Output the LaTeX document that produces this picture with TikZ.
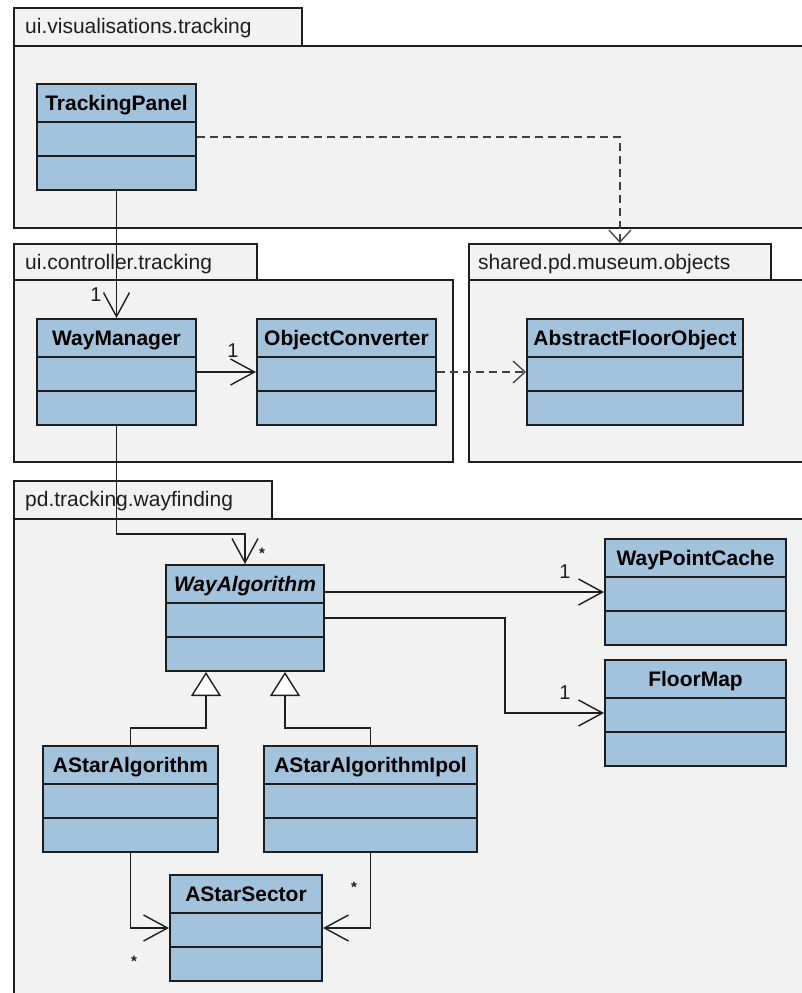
\documentclass[tikz,border=0pt]{standalone}
\usepackage{fontspec}
\setmainfont{Liberation Sans}
\usetikzlibrary{arrows.meta}
\definecolor{clsfill}{HTML}{A3C2DC}
\definecolor{pkgfill}{HTML}{F2F2F2}
\definecolor{ink}{HTML}{1E1E1E}
\definecolor{dashink}{HTML}{404040}
\tikzset{
  pkgbox/.style={draw=ink, fill=pkgfill, line width=1.8pt, inner sep=0pt, anchor=north west},
  pkglabel/.style={anchor=base west, inner sep=0pt, font=\fontsize{21pt}{25pt}\selectfont, text=ink},
  clsbox/.style={draw=ink, fill=clsfill, line width=2pt, inner sep=0pt, minimum height=106pt, anchor=north west},
  clstitle/.style={anchor=base, inner sep=0pt, font=\fontsize{21pt}{25pt}\selectfont\bfseries, text=black},
  clsline/.style={draw=ink, line width=2pt},
  assoc/.style={draw=ink, line width=1.3pt, -{Straight Barb[length=24pt,width=26pt,line width=1.4pt]}},
  dep/.style={draw=dashink, line width=1.3pt, dash pattern=on 8pt off 5pt, -{Straight Barb[length=12pt,width=22pt,line width=1.3pt]}},
  gen/.style={draw=ink, line width=1.3pt, -{Triangle[open,length=24pt,width=30pt,line width=1.4pt,fill=white]}},
  mult/.style={inner sep=0pt, font=\fontsize{20pt}{24pt}\selectfont, text=ink},
  star/.style={inner sep=0pt, font=\fontsize{15pt}{16pt}\selectfont\bfseries, text=ink},
}
\newcommand\umlcls[6]{%
  \node[clsbox, minimum width=#4pt] (#1) at (#2,#3) {};
  \node[clstitle] (#1-t) at ([yshift=-27pt]#1.north) {#5#6};
  \draw[clsline] ([yshift=-39pt]#1.north west) -- ([yshift=-39pt]#1.north east);
  \draw[clsline] ([yshift=-72.5pt]#1.north west) -- ([yshift=-72.5pt]#1.north east);
}
\begin{document}
\begin{tikzpicture}[x=1pt, y=-1pt]
\clip (0,0) rectangle (802,993);
\fill[white] (0,0) rectangle (802,993);

% packages
\node[pkgbox, minimum width=288pt, minimum height=38pt] (p1tab) at (13,7) {};
\node[pkgbox, minimum width=800pt, minimum height=182pt] (p1) at (13,45) {};
\node[pkglabel] (p1lab) at (25,33) {ui.visualisations.tracking};

\node[pkgbox, minimum width=243pt, minimum height=36pt] (p2tab) at (13,243) {};
\node[pkgbox, minimum width=439pt, minimum height=182pt] (p2) at (13,279) {};
\node[pkglabel] (p2lab) at (25,269) {ui.controller.tracking};

\node[pkgbox, minimum width=302pt, minimum height=36pt] (p3tab) at (468,243) {};
\node[pkgbox, minimum width=345pt, minimum height=182pt] (p3) at (468,279) {};
\node[pkglabel] (p3lab) at (478,269) {shared.pd.museum.objects};

\node[pkgbox, minimum width=258pt, minimum height=38pt] (p4tab) at (13,480) {};
\node[pkgbox, minimum width=800pt, minimum height=500pt] (p4) at (13,518) {};
\node[pkglabel] (p4lab) at (25,506) {pd.tracking.wayfinding};

% classes
\umlcls{TrackingPanel}{36}{83}{159}{}{TrackingPanel}
\umlcls{WayManager}{36}{318}{159}{}{WayManager}
\umlcls{ObjectConverter}{256}{318}{179}{}{ObjectConverter}
\umlcls{AbstractFloorObject}{526}{318}{216}{}{AbstractFloorObject}
\umlcls{WayAlgorithm}{165}{564}{158}{\itshape}{WayAlgorithm}
\umlcls{WayPointCache}{604}{538}{181}{}{WayPointCache}
\umlcls{FloorMap}{604}{659}{181}{}{FloorMap}
\umlcls{AStarAlgorithm}{42}{745}{175}{}{AStarAlgorithm}
\umlcls{AStarAlgorithmIpol}{263}{745}{213}{}{AStarAlgorithmIpol}
\umlcls{AStarSector}{169}{874}{152}{}{AStarSector}

% connectors
\draw[assoc] (TrackingPanel.south) -- (WayManager.north);
\draw[dep] (TrackingPanel.east) -| (p3tab.north);
\draw[assoc] (WayManager.east) -- (ObjectConverter.west);
\draw[dep] (ObjectConverter.east) -- (AbstractFloorObject.west);
\draw[assoc] (WayManager.south) |- ([yshift=30pt]WayAlgorithm.north) -- (WayAlgorithm.north);
\draw[assoc] (WayAlgorithm.east |- WayPointCache.west) -- (WayPointCache.west);
\draw[assoc] (WayAlgorithm.east) -- ++(180,0) |- (FloorMap.west);
\coordinate (g1) at ([xshift=-39pt]WayAlgorithm.south);
\coordinate (g2) at ([xshift=40pt]WayAlgorithm.south);
\draw[gen] (AStarAlgorithm.north) |- ([yshift=-56pt]g1) -- (g1);
\draw[gen] (AStarAlgorithmIpol.north) |- ([yshift=-56pt]g2) -- (g2);
\draw[assoc] (AStarAlgorithm.south) |- (AStarSector.west);
\draw[assoc] (AStarAlgorithmIpol.south) |- (AStarSector.east);

% multiplicities
\node[mult] (m1) at (96,295) {1};
\node[mult] (m2) at (233,351) {1};
\node[star] (m3) at (262,553) {*};
\node[mult] (m4) at (565,572) {1};
\node[mult] (m5) at (565,693) {1};
\node[star] (m6) at (134,961) {*};
\node[star] (m7) at (354,887) {*};
\end{tikzpicture}
\end{document}
